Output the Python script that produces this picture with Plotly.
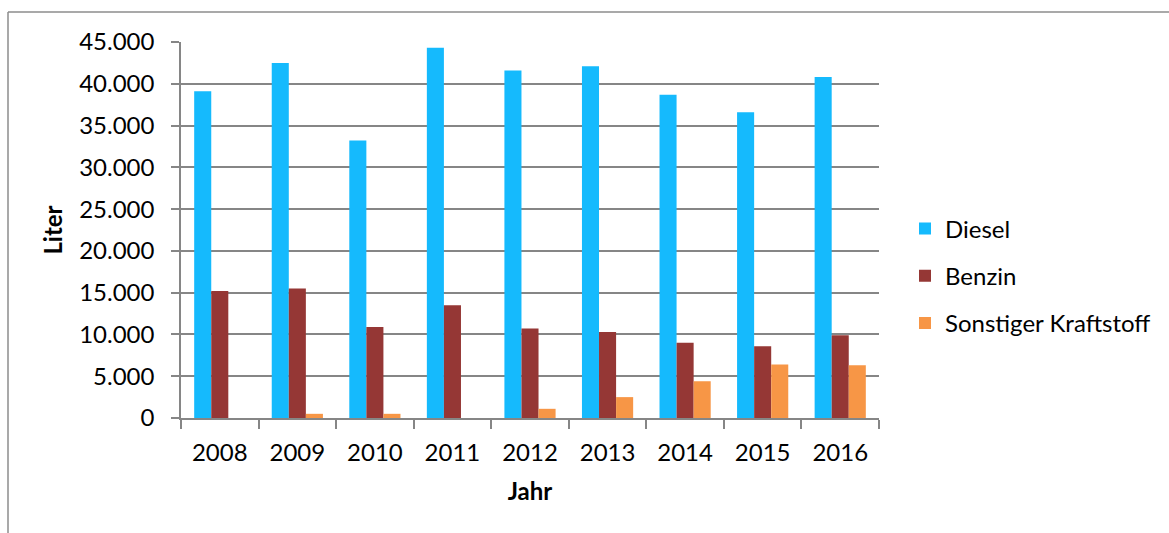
import plotly.graph_objects as go

# Annual fuel consumption in litres
years = ["2008", "2009", "2010", "2011", "2012", "2013", "2014", "2015", "2016"]
diesel = [39100, 42500, 33200, 44300, 41600, 42100, 38700, 36600, 40800]
benzin = [15200, 15500, 10900, 13500, 10700, 10300, 9000, 8600, 9900]
sonstige = [0, 500, 500, 0, 1100, 2500, 4400, 6400, 6300]

series_names = ["Diesel", "Benzin", "Sonstiger Kraftstoff"]
series_colors = ["#15BAFD", "#953735", "#F79646"]

y_ticks = [0, 5000, 10000, 15000, 20000, 25000, 30000, 35000, 40000, 45000]
y_ticklabels = ["0", "5.000", "10.000", "15.000", "20.000", "25.000",
                "30.000", "35.000", "40.000", "45.000"]

FONT = "Lato, 'Open Sans', sans-serif"
FS = 24
GRID = "#868686"

fig = go.Figure()
for name, vals, col in zip(series_names, [diesel, benzin, sonstige], series_colors):
    fig.add_trace(go.Bar(
        x=years, y=vals, name=name, legendgroup=name,
        marker=dict(color=col, line=dict(width=0)),
    ))

# plot area geometry (pixels) used for the outer frame lines
W, H = 1169, 533
L, R, T, B = 181, 290, 42, 115
pw, ph = W - L - R, H - T - B

def px_x(px):
    return (px - L) / pw

def px_y(py):
    return (H - B - py) / ph

fig.update_layout(
    width=W, height=H,
    margin=dict(l=L, r=R, t=T, b=B, pad=0),
    paper_bgcolor="white", plot_bgcolor="white",
    font=dict(family=FONT, size=FS, color="black"),
    barmode="group", bargap=0.34, bargroupgap=0,
    showlegend=True,
    legend=dict(
        x=px_x(905), xanchor="left", xref="paper",
        y=px_y(276), yanchor="middle",
        font=dict(family=FONT, size=FS, color="black"),
        tracegroupgap=13, traceorder="grouped",
        bgcolor="rgba(0,0,0,0)",
    ),
    xaxis=dict(
        type="category",
        showline=True, linecolor=GRID, linewidth=1.5,
        ticks="outside", tickson="boundaries", ticklen=9, tickcolor=GRID, tickwidth=1.5,
        ticklabelstandoff=12,
        showgrid=False,
        title=dict(text="<b>Jahr</b>", font=dict(family=FONT, size=FS), standoff=19),
    ),
    yaxis=dict(
        range=[0, 45000],
        tickvals=y_ticks, ticktext=y_ticklabels,
        showline=True, linecolor=GRID, linewidth=1.5,
        ticks="outside", ticklen=8, tickcolor=GRID, tickwidth=1.5,
        ticklabelstandoff=12,
        showgrid=True, gridcolor=GRID, gridwidth=1.5,
        zeroline=False,
        title=dict(text="<b>Liter</b>", font=dict(family=FONT, size=FS), standoff=10),
    ),
    shapes=[
        # outer chart frame: top and left edges
        dict(type="line", xref="paper", yref="paper",
             x0=px_x(8), x1=px_x(1175), y0=px_y(12), y1=px_y(12),
             line=dict(color="#8C8C8C", width=1.5)),
        dict(type="line", xref="paper", yref="paper",
             x0=px_x(8), x1=px_x(8), y0=px_y(12), y1=px_y(540),
             line=dict(color="#8C8C8C", width=1.5)),
    ],
)

fig.write_html("out.html")
